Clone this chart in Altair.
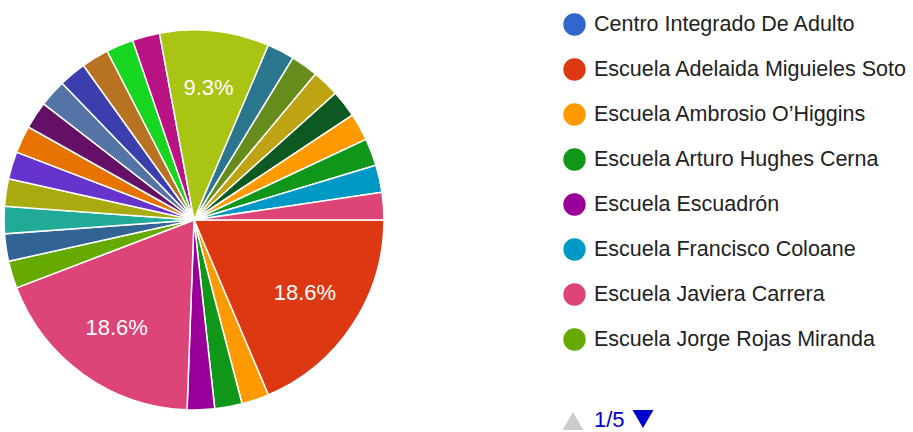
import math
import altair as alt
import pandas as pd

# ---- data ----
legend_names = [
    "Centro Integrado De Adulto",
    "Escuela Adelaida Miguieles Soto",
    "Escuela Ambrosio O’Higgins",
    "Escuela Arturo Hughes Cerna",
    "Escuela Escuadrón",
    "Escuela Francisco Coloane",
    "Escuela Javiera Carrera",
    "Escuela Jorge Rojas Miranda",
]
# remaining categories sit on legend pages 2-5 (not visible in the reference)
hidden_names = [f"Establecimiento {i:02d}" for i in range(9, 39)]
names = legend_names + hidden_names

counts = [0, 8, 1, 1, 1, 0, 8, 1, 0, 1, 0, 1, 1, 1, 1, 0, 1, 0, 1,
          1, 1, 1, 1, 0, 0, 4, 1, 1, 1, 1, 0, 0, 0, 1, 1, 0, 1, 1]

pager_text = ["1/5"]

# ---- styles ----
palette = ["#3366cc", "#dc3912", "#ff9900", "#109618", "#990099", "#0099c6",
           "#dd4477", "#66aa00", "#b82e2e", "#316395", "#994499", "#22aa99",
           "#aaaa11", "#6633cc", "#e67300", "#8b0707", "#651067", "#329262",
           "#5574a6", "#3b3eac", "#b77322", "#16d620", "#b91383", "#f4359e",
           "#9c5935", "#a9c413", "#2a778d", "#668d1c", "#bea413", "#0c5922",
           "#743411"]
colors = [palette[i % len(palette)] for i in range(len(names))]

FONT = "Liberation Sans"
CX, CY, R = 194, 220, 190

df = pd.DataFrame({"name": names, "n": counts, "idx": list(range(len(names)))})

theta = alt.Theta("n:Q", stack=True,
                  scale=alt.Scale(range=[math.pi / 2, math.pi / 2 + 2 * math.pi]))

base = alt.Chart(df).transform_filter("datum.n > 0")

arcs = base.mark_arc(outerRadius=R, stroke="white", strokeWidth=1.5).encode(
    theta=theta,
    order=alt.Order("idx:Q"),
    x=alt.value(CX),
    y=alt.value(CY),
    color=alt.Color(
        "name:N",
        sort=None,
        scale=alt.Scale(domain=names, range=colors),
        legend=alt.Legend(
            values=legend_names,
            orient="none",
            legendX=563,
            legendY=13,
            title=None,
            symbolType="circle",
            symbolSize=500,
            symbolStrokeWidth=0,
            symbolOpacity=1,
            labelFontSize=21.5,
            labelFont=FONT,
            labelColor="#222222",
            labelOffset=8,
            labelLimit=400,
            rowPadding=22,
            padding=0,
        ),
    ),
)

labels = base.transform_joinaggregate(total="sum(n)").transform_calculate(
    label="datum.n / datum.total >= 0.05 ? format(datum.n / datum.total, '.1%') : ''"
).mark_text(radius=R * 0.7, fontSize=22, font=FONT, color="white").encode(
    theta=theta,
    order=alt.Order("idx:Q"),
    detail="name:N",
    x=alt.value(CX),
    y=alt.value(CY),
    text="label:N",
)

pager_df = pd.DataFrame({"t": pager_text})
up = alt.Chart(pager_df).mark_point(shape="triangle-up", filled=True, size=440,
                                    color="#cccccc", opacity=1).encode(
    x=alt.value(573), y=alt.value(421))
page = alt.Chart(pager_df).mark_text(fontSize=22, font=FONT, color="#0000cc",
                                     align="left", baseline="middle").encode(
    x=alt.value(594), y=alt.value(420), text="t:N")
down = alt.Chart(pager_df).mark_point(shape="triangle-down", filled=True, size=440,
                                      color="#0000cc", opacity=1).encode(
    x=alt.value(643), y=alt.value(419))

chart = alt.layer(arcs, labels, up, page, down).properties(
    width=913, height=432, padding=0, autosize="none"
).configure_view(stroke=None)

chart.save("out.html", embed_options={"renderer": "svg", "actions": False})
